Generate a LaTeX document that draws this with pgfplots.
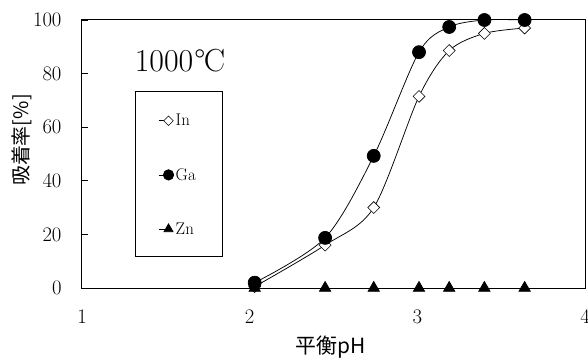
\documentclass[border=0pt]{standalone}
\usepackage{pgfplots}
\pgfplotsset{compat=1.18}
\usepackage{fontspec}
\newfontfamily\cjk{Noto Sans CJK JP}
\newcommand\lgf{\fontsize{17}{19}\selectfont}
\begin{document}
\begin{tikzpicture}
\begin{axis}[
  name=ax,
  scale only axis,
  width=503bp, height=268bp,
  xmin=1, xmax=4, ymin=0, ymax=100,
  xtick={1,2,3,4}, ytick={0,20,40,60,80,100},
  axis line style={line width=1bp},
  tick style={black, line width=0.8bp},
  xtick pos=bottom, ytick pos=left,
  tick align=inside,
  major tick length=6bp,
  x tick style={draw=none},
  tick label style={font=\fontsize{21}{23}\selectfont},
  xticklabel style={yshift=-19bp},
  yticklabel style={xshift=-17bp},
  xlabel={\cjk 平衡pH},
  ylabel={\cjk 吸着率[\%]},
  every axis x label/.style={at={(rel axis cs:0.495,0)}, anchor=center, yshift=-59bp, font=\fontsize{21}{23}\selectfont},
  every axis y label/.style={at={(rel axis cs:0,0.552)}, xshift=-60bp, anchor=center, rotate=90, font=\fontsize{20}{22}\selectfont},
  legend style={draw=none, fill=none, at={(axis cs:1.453,42.2)}, anchor=west, row sep=37bp, inner sep=0pt},
  legend cell align=left,
  legend image code/.code={\draw[#1,mark=none] (0bp,0bp) -- (10bp,0bp); \draw[#1,sharp plot,every mark/.append style={scale=0.8}] plot coordinates {(10bp,0bp)};},
  clip=false,
]
\draw[black, line width=0.75bp] (rel axis cs:0.1054,0.735) rectangle (rel axis cs:0.2783,0.119);
\node[font=\fontsize{32}{34}\selectfont] at (axis cs:1.584,84.7) {1000\kern1bp°\kern-1.5bp C};
\addplot[black, line width=0.75bp, smooth, tension=0.5, mark=square*, mark size=4.2bp, mark options={rotate=45, fill=white, line width=0.6bp}]
  coordinates {(2.03,0.5) (2.45,16) (2.74,30) (3.01,71.5) (3.19,88.6) (3.40,95) (3.64,97)};
\addlegendentry{\lgf In}
\addplot[black, line width=0.75bp, smooth, tension=0.5, mark=*, mark size=6.5bp, mark options={fill=black}]
  coordinates {(2.03,2) (2.45,18.7) (2.74,49.3) (3.01,88) (3.19,97.4) (3.40,100) (3.64,100)};
\addlegendentry{\lgf Ga}
\addplot[black, line width=0.75bp, mark=triangle*, mark size=6.5bp, mark options={fill=black}]
  coordinates {(2.03,0) (2.45,0) (2.74,0) (3.01,0) (3.19,0) (3.40,0) (3.64,0)};
\addlegendentry{\lgf Zn}
\end{axis}
\pgfresetboundingbox
\path ([shift={(-82bp,-70bp)}]ax.south west) rectangle ([shift={(3bp,20bp)}]ax.north east);
\end{tikzpicture}
\end{document}
